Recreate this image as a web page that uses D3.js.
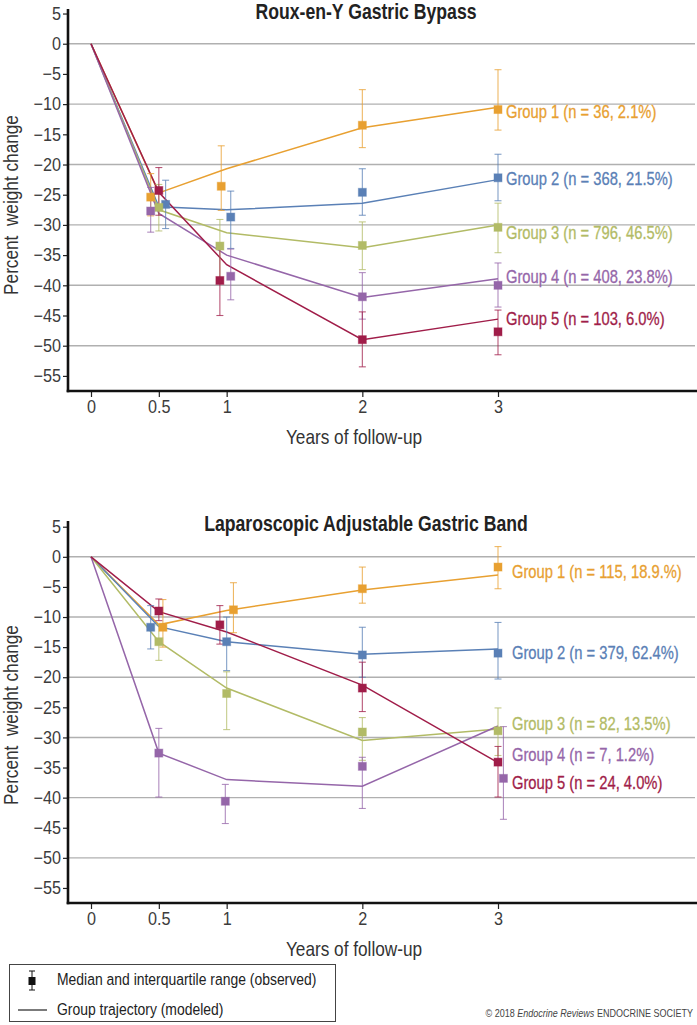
<!DOCTYPE html>
<html>
<head>
<meta charset="utf-8">
<script src="https://cdn.jsdelivr.net/npm/d3@7"></script>
<style>
  html, body { margin: 0; padding: 0; background: #fff; }
  svg { display: block; }
  text { font-family: "Liberation Sans", Arial, sans-serif; }
</style>
</head>
<body>
<script>
// ---------------- DATA ----------------
const groupColors = ["#E8A031", "#5A80B6", "#B2BB66", "#9566A9", "#A01D49"];
const modelYears = [0, 0.5, 1, 2, 3];
const xTickValues = [0, 0.5, 1, 2, 3];
const xTickLabels = ["0", "0.5", "1", "2", "3"];
const yTickValues = [5, 0, -5, -10, -15, -20, -25, -30, -35, -40, -45, -50, -55];
const yGridValues = [0, -10, -20, -30, -40, -50];

// Roux-en-Y Gastric Bypass
const rygbLabels = ["Group 1 (n = 36, 2.1%)", "Group 2 (n = 368, 21.5%)", "Group 3 (n = 796, 46.5%)", "Group 4 (n = 408, 23.8%)", "Group 5 (n = 103, 6.0%)"];
const rygbLabelAt = [-11.3, -22.3, -31.3, -38.5, -45.5];
const rygbModel = [
  [0, -24.7, -20.7, -13.9, -10.5],
  [0, -27.0, -27.5, -26.4, -22.5],
  [0, -27.5, -31.3, -33.8, -30.0],
  [0, -28.1, -35.0, -42.0, -38.9],
  [0, -24.6, -36.6, -49.0, -45.6]
];
const rygbObsYears = [
  [0.44, 0.96, 2, 3],
  [0.55, 1.03, 2, 3],
  [0.50, 0.95, 2, 3],
  [0.44, 1.03, 2, 3],
  [0.50, 0.95, 2, 3]
];
const rygbMedian = [
  [-25.4, -23.6, -13.5, -10.9],
  [-26.6, -28.7, -24.6, -22.2],
  [-27.1, -33.5, -33.4, -30.4],
  [-27.7, -38.5, -41.9, -40.0],
  [-24.3, -39.2, -49.0, -47.7]
];
const rygbQ3 = [
  [-21.5, -16.9, -7.6, -4.3],
  [-22.6, -24.4, -20.7, -18.3],
  [-23.3, -29.1, -29.5, -26.4],
  [-23.8, -34.0, -37.9, -36.3],
  [-20.5, -34.0, -44.4, -44.1]
];
const rygbQ1 = [
  [-28.5, -27.6, -17.2, -14.3],
  [-30.6, -33.9, -28.4, -26.0],
  [-31.0, -39.7, -37.4, -34.6],
  [-31.2, -42.4, -45.6, -43.6],
  [-28.4, -45.0, -53.5, -51.5]
];

// Laparoscopic Adjustable Gastric Band
const lagbLabels = ["Group 1 (n = 115, 18.9.%)", "Group 2 (n = 379, 62.4%)", "Group 3 (n = 82, 13.5%)", "Group 4 (n = 7, 1.2%)", "Group 5 (n = 24, 4.0%)"];
const lagbLabelAt = [-2.5, -16.0, -27.8, -32.9, -37.6];
const lagbModel = [
  [0, -11.3, -8.9, -5.5, -3.0],
  [0, -11.6, -14.1, -16.2, -15.3],
  [0, -14.1, -21.8, -30.5, -28.6],
  [0, -32.6, -37.0, -38.1, -28.1],
  [0, -9.1, -12.5, -21.3, -34.2]
];
const lagbObsYears = [
  [0.53, 1.05, 2, 3],
  [0.44, 1.00, 2, 3],
  [0.50, 1.00, 2, 3],
  [0.50, 0.99, 2, 3.04],
  [0.50, 0.95, 2, 3]
];
const lagbMedian = [
  [-11.7, -8.8, -5.3, -1.7],
  [-11.7, -14.1, -16.3, -16.0],
  [-14.1, -22.7, -29.1, -28.9],
  [-32.6, -40.6, -34.8, -36.8],
  [-9.0, -11.3, -21.8, -34.1]
];
const lagbQ3 = [
  [-7.1, -4.3, -1.7, 1.7],
  [-8.1, -10.0, -11.7, -10.9],
  [-11.3, -19.1, -26.7, -25.1],
  [-28.5, -37.8, -33.3, -28.2],
  [-7.0, -8.1, -17.5, -31.5]
];
const lagbQ1 = [
  [-15.0, -12.6, -7.7, -5.3],
  [-15.3, -18.9, -20.0, -20.3],
  [-17.2, -28.7, -33.8, -33.0],
  [-39.9, -44.3, -41.8, -43.6],
  [-10.6, -14.5, -25.7, -39.9]
];

// ---------------- DRAW ----------------
const W = 697, H = 1025;
const NARROW = 0.82;
const TICK_NARROW = 0.9;
const svg = d3.select("body").append("svg").attr("width", W).attr("height", H);

// place a horizontally condensed text at (x, y)
function ntext(parent, x, y, str, rot) {
  return parent.append("text")
    .attr("transform", `translate(${x},${y})${rot ? ` rotate(${rot})` : ""} scale(${NARROW},1)`)
    .text(str);
}
function narrowTicks(sel) {
  sel.selectAll(".tick text").each(function () {
    const t = d3.select(this);
    const x0 = +t.attr("x") || 0;
    t.attr("x", x0 / TICK_NARROW).attr("transform", `scale(${TICK_NARROW},1)`);
  });
}

function drawPanel(cfg) {
  const x = d3.scaleLinear().domain([0, 3]).range([91, 498]);
  const y = d3.scaleLinear().domain([-57.5, cfg.yMax]).range([cfg.axisY, cfg.topY]);
  const axisX = 68;
  const g = svg.append("g");

  // title
  ntext(g, 366, cfg.titleY, cfg.title)
    .attr("text-anchor", "middle").attr("font-weight", "bold")
    .attr("font-size", 21.5).attr("fill", "#222");

  // gridlines
  g.selectAll(".grid").data(yGridValues).enter().append("line")
    .attr("x1", axisX).attr("x2", 695)
    .attr("y1", d => y(d)).attr("y2", d => y(d))
    .attr("stroke", "#b0b0b0").attr("stroke-width", 1.4);

  // y axis
  const yAxis = d3.axisLeft(y).tickValues(yTickValues).tickSize(5).tickPadding(2).tickFormat(d3.format("d"));
  const ya = g.append("g").attr("transform", `translate(${axisX},0)`).call(yAxis);
  ya.select(".domain").remove();
  ya.selectAll(".tick line").attr("stroke", "#222").attr("stroke-width", 1.2);
  ya.selectAll(".tick text").attr("font-family", "Liberation Sans, Arial, sans-serif").attr("font-size", 18).attr("fill", "#3c3c3c");
  narrowTicks(ya);

  // x axis
  const xAxis = d3.axisBottom(x).tickValues(xTickValues).tickSize(5).tickPadding(3)
    .tickFormat((d, i) => xTickLabels[i]);
  const xa = g.append("g").attr("transform", `translate(0,${cfg.axisY + 1})`).call(xAxis);
  xa.select(".domain").remove();
  xa.selectAll(".tick line").attr("stroke", "#222").attr("stroke-width", 1.2);
  xa.selectAll(".tick text").attr("font-family", "Liberation Sans, Arial, sans-serif").attr("font-size", 18).attr("fill", "#3c3c3c");
  narrowTicks(xa);

  // axis lines
  g.append("line").attr("x1", axisX).attr("x2", axisX).attr("y1", cfg.topY).attr("y2", cfg.axisY + 1.2)
    .attr("stroke", "#111").attr("stroke-width", 2.6);
  g.append("line").attr("x1", axisX - 1.3).attr("x2", W).attr("y1", cfg.axisY).attr("y2", cfg.axisY)
    .attr("stroke", "#111").attr("stroke-width", 2.6);

  // axis titles
  ntext(g, 354, cfg.axisY + 53, "Years of follow-up")
    .attr("text-anchor", "middle").attr("font-size", 21).attr("fill", "#333");
  ntext(g, 18, cfg.yTitleCenter, "Percent\u00a0\u00a0weight change", -90)
    .attr("text-anchor", "middle").attr("font-size", 21).attr("fill", "#333");

  const line = d3.line().x(d => x(d[0])).y(d => y(d[1]));

  // model lines
  cfg.model.forEach((vals, gi) => {
    g.append("path").datum(modelYears.map((t, i) => [t, vals[i]]))
      .attr("d", line).attr("fill", "none")
      .attr("stroke", groupColors[gi]).attr("stroke-width", 1.5);
  });

  // error bars
  cfg.obsYears.forEach((ts, gi) => {
    const col = groupColors[gi];
    ts.forEach((t, i) => {
      const cx = x(t);
      const hi = y(cfg.q3[gi][i]), lo = y(cfg.q1[gi][i]);
      g.append("line").attr("x1", cx).attr("x2", cx).attr("y1", hi).attr("y2", lo)
        .attr("stroke", col).attr("stroke-opacity", 0.75).attr("stroke-width", 1.1);
      [hi, lo].forEach(yy => {
        g.append("line").attr("x1", cx - 3.5).attr("x2", cx + 3.5).attr("y1", yy).attr("y2", yy)
          .attr("stroke", col).attr("stroke-opacity", 0.75).attr("stroke-width", 1.1);
      });
    });
  });
  // median squares
  cfg.obsYears.forEach((ts, gi) => {
    const col = groupColors[gi];
    ts.forEach((t, i) => {
      const cx = x(t), cy = y(cfg.median[gi][i]);
      g.append("rect").attr("x", cx - 4).attr("y", cy - 4).attr("width", 8).attr("height", 8)
        .attr("fill", col).attr("stroke", col).attr("stroke-opacity", 0.45).attr("stroke-width", 1);
    });
  });

  // group labels
  cfg.labels.forEach((lab, gi) => {
    ntext(g, x(3) + cfg.labelDx, y(cfg.labelAt[gi]), lab)
      .attr("dy", "0.35em").attr("font-size", 18).attr("fill", groupColors[gi])
      .attr("stroke", groupColors[gi]).attr("stroke-width", 0.3);
  });
}

drawPanel({
  title: "Roux-en-Y Gastric Bypass", titleY: 19,
  topY: 9, axisY: 391, yMax: 5.75, yTitleCenter: 205,
  model: rygbModel, obsYears: rygbObsYears, median: rygbMedian, q1: rygbQ1, q3: rygbQ3,
  labels: rygbLabels, labelAt: rygbLabelAt, labelDx: 8
});
drawPanel({
  title: "Laparoscopic Adjustable Gastric Band", titleY: 531,
  topY: 521, axisY: 903, yMax: 5.95, yTitleCenter: 715,
  model: lagbModel, obsYears: lagbObsYears, median: lagbMedian, q1: lagbQ1, q3: lagbQ3,
  labels: lagbLabels, labelAt: lagbLabelAt, labelDx: 14
});

// legend
const lg = svg.append("g");
lg.append("rect").attr("x", 9.5).attr("y", 964.5).attr("width", 326).attr("height", 57)
  .attr("fill", "#fff").attr("stroke", "#444").attr("stroke-width", 1);
lg.append("line").attr("x1", 32).attr("x2", 32).attr("y1", 971).attr("y2", 990).attr("stroke", "#111").attr("stroke-width", 1);
[971, 990].forEach(yy => lg.append("line").attr("x1", 29).attr("x2", 35).attr("y1", yy).attr("y2", yy).attr("stroke", "#111").attr("stroke-width", 1));
lg.append("rect").attr("x", 28.5).attr("y", 977).attr("width", 7).attr("height", 8).attr("fill", "#111");
ntext(lg, 57, 985, "Median and interquartile range (observed)").attr("font-size", 17).attr("fill", "#222");
lg.append("line").attr("x1", 18).attr("x2", 47).attr("y1", 1010).attr("y2", 1010).attr("stroke", "#222").attr("stroke-width", 1.2);
ntext(lg, 57, 1015, "Group trajectory (modeled)").attr("font-size", 17).attr("fill", "#222");

// copyright
const ct = ntext(svg, 693, 1017, "").attr("text-anchor", "end")
  .attr("font-size", 11).attr("fill", "#444");
ct.append("tspan").text("© 2018 ");
ct.append("tspan").attr("font-style", "italic").text("Endocrine Reviews");
ct.append("tspan").text("  ENDOCRINE SOCIETY");
</script>
</body>
</html>
